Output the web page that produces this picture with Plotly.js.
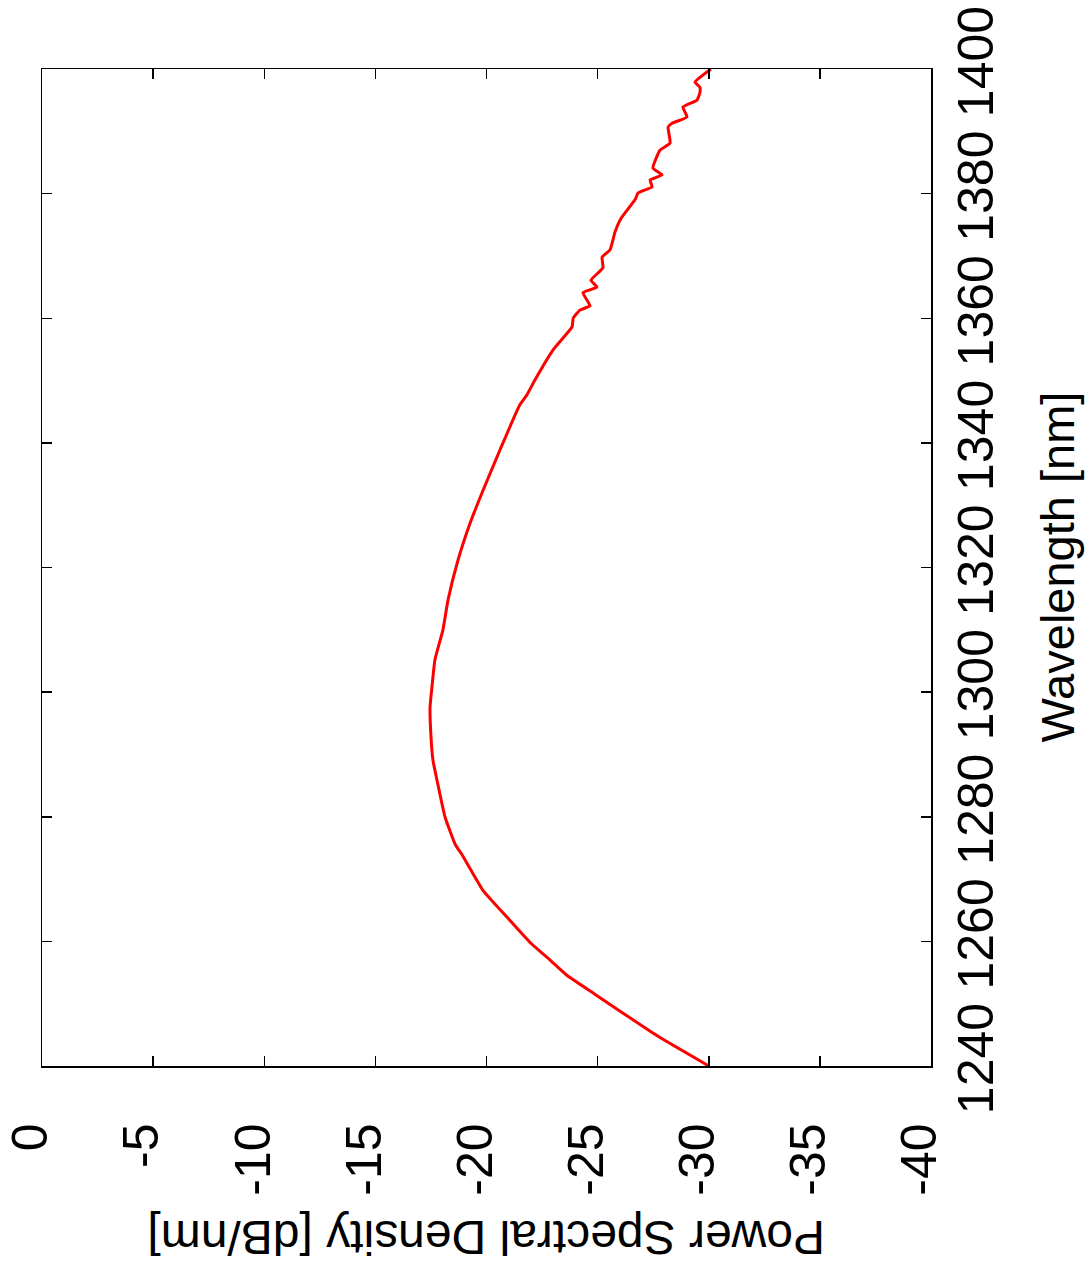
<!DOCTYPE html>
<html>
<head>
<meta charset="utf-8">
<script src="https://cdn.plot.ly/plotly-3.0.1.min.js"></script>
<style>html,body{margin:0;padding:0;background:#fff;}</style>
</head>
<body>
<div id="chart" style="width:1086px;height:1276px;"></div>
<script>
// Wavelength [nm]
var wavelength = [1240, 1244.8, 1251.7, 1254.6, 1257, 1259.7, 1263.9, 1268.2, 1273.9, 1275.5, 1280, 1285.9, 1289.1, 1293, 1297.6, 1301, 1305.2, 1310, 1314.8, 1321.2, 1327.1, 1332, 1338.9, 1346.1, 1347.7, 1350.1, 1354.9, 1358.6, 1360, 1361.3, 1362, 1364.1, 1365, 1366.1, 1368.1, 1369.8, 1371, 1373.8, 1376, 1379, 1380.1, 1381.1, 1382.2, 1383, 1384.1, 1387, 1388.1, 1390.7, 1391.3, 1392.3, 1393.9, 1395, 1396.2, 1397.1, 1397.9, 1400];
// Power spectral density [dB/nm]
var psd = [-30.0, -27.7, -24.8, -23.6, -22.86, -22.0, -20.92, -19.84, -18.9, -18.6, -18.13, -17.77, -17.59, -17.5, -17.46, -17.55, -17.68, -18.04, -18.27, -18.72, -19.26, -19.8, -20.61, -21.5, -21.82, -22.18, -22.99, -23.85, -23.9, -24.2, -24.66, -24.34, -24.97, -24.7, -25.24, -25.2, -25.56, -25.78, -26.05, -26.68, -26.82, -27.45, -27.36, -27.9, -27.49, -27.81, -28.26, -28.17, -28.35, -29.02, -28.84, -29.47, -29.6, -29.6, -29.38, -30.1];

var psdTicks = [0, -5, -10, -15, -20, -25, -30, -35, -40];
var wlTicks = [1240, 1260, 1280, 1300, 1320, 1340, 1360, 1380, 1400];

var xTitle = 'Power Spectral Density [dB/nm]';
var yTitle = 'Wavelength [nm]';

var FONT = 'Liberation Sans, Arial, sans-serif';

var trace = {
  x: psd,
  y: wavelength,
  type: 'scatter',
  mode: 'lines',
  line: {color: '#ff0000', width: 3, shape: 'spline', smoothing: 0.4},
  showlegend: false
};

var layout = {
  width: 1086,
  height: 1276,
  margin: {l: 42, r: 155, t: 69, b: 210},
  paper_bgcolor: '#ffffff',
  plot_bgcolor: '#ffffff',
  font: {family: FONT, color: '#000000'},
  xaxis: {
    range: [0, -40],
    tickvals: psdTicks,
    ticktext: psdTicks.map(String),
    ticks: 'inside',
    ticklen: 10,
    tickwidth: 1.5,
    tickcolor: '#000',
    showline: true,
    linecolor: '#000',
    linewidth: 1.5,
    mirror: 'allticks',
    showgrid: false,
    zeroline: false,
    tickangle: -90,
    ticklabelstandoff: 36,
    ticklabelshift: 11,
    tickfont: {family: FONT, size: 50, color: '#000'}
  },
  yaxis: {
    side: 'right',
    range: [1240, 1400],
    tickvals: wlTicks,
    ticktext: wlTicks.map(String),
    ticks: 'inside',
    ticklen: 10,
    tickwidth: 1.5,
    tickcolor: '#000',
    showline: true,
    linecolor: '#000',
    linewidth: 1.5,
    mirror: 'allticks',
    showgrid: false,
    zeroline: false,
    tickangle: -90,
    ticklabelstandoff: 0,
    tickfont: {family: FONT, size: 50, color: '#000'}
  },
  annotations: [
    {
      text: xTitle, xref: 'paper', yref: 'paper',
      x: 0.5, y: 0, yshift: -172, showarrow: false,
      textangle: 180, xanchor: 'center', yanchor: 'middle',
      font: {family: FONT, size: 48, color: '#000'}
    },
    {
      text: yTitle, xref: 'paper', yref: 'paper',
      x: 1, y: 0.5, xshift: 126, showarrow: false,
      textangle: -90, xanchor: 'center', yanchor: 'middle',
      font: {family: FONT, size: 47, color: '#000'}
    }
  ]
};

Plotly.newPlot('chart', [trace], layout, {displayModeBar: false, staticPlot: true});
</script>
</body>
</html>
